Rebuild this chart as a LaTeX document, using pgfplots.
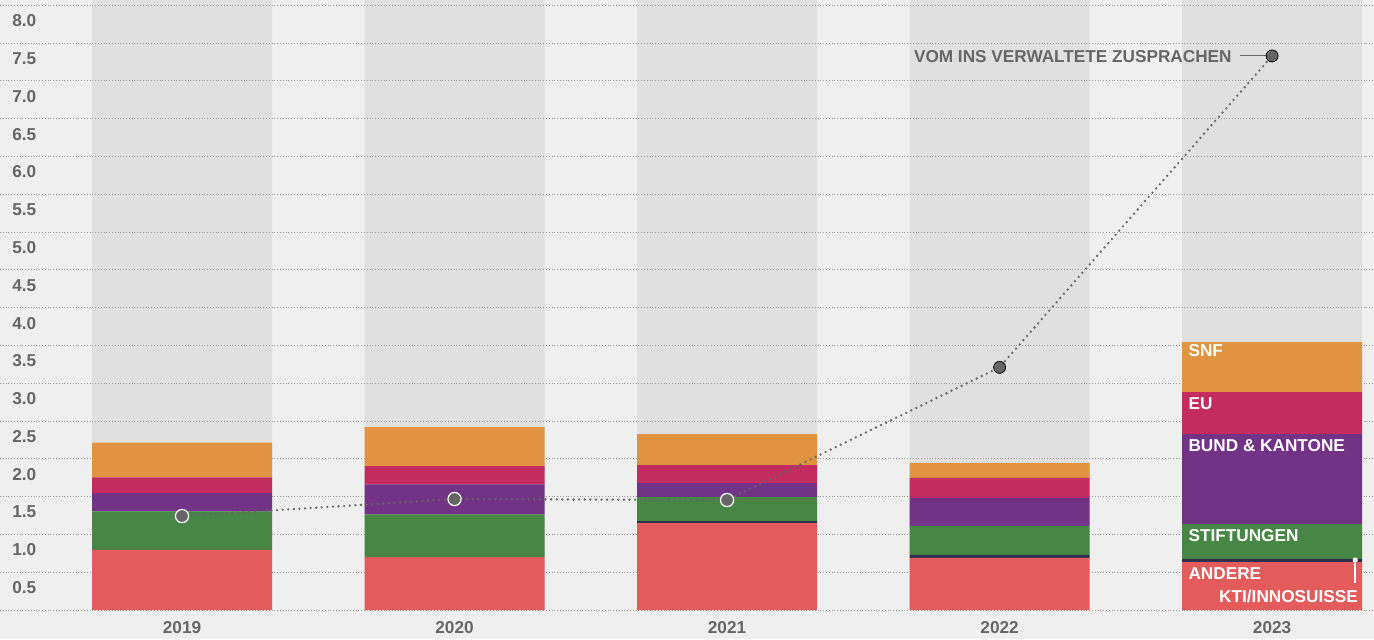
\documentclass[border=0pt]{standalone}
\usepackage{pgfplots}
\pgfplotsset{compat=1.18}
\usepackage{fontspec}
\setmainfont{Liberation Sans}

\definecolor{pagebg}{HTML}{EFEFEF}
\definecolor{colbg}{HTML}{E0E0E0}
\definecolor{gridc}{HTML}{9A9A9A}
\definecolor{txt}{HTML}{666666}
\definecolor{andere}{HTML}{E45B5B}
\definecolor{kti}{HTML}{2F2F50}
\definecolor{stift}{HTML}{478645}
\definecolor{bund}{HTML}{723387}
\definecolor{eu}{HTML}{C42B5E}
\definecolor{snf}{HTML}{E09441}

\pgfplotsset{
  base/.style={
    at={(0,0)}, anchor=south west, scale only axis,
    width=687pt, height=305pt,
    xmin=-0.668, xmax=4.374, ymin=0, ymax=8.07,
  },
}
\tikzset{lbl/.style={font=\fontsize{8.6}{10}\selectfont\bfseries, text=white, inner sep=0pt}}

\begin{document}
\begin{tikzpicture}
\useasboundingbox (0,-14.5pt) rectangle (687pt,305pt);
\fill[pagebg] (0,-14.5pt) rectangle (687pt,305pt);

% grey columns behind the bars
\begin{axis}[base, hide axis]
\addplot[ybar, bar width=90pt, fill=colbg, draw=none]
  coordinates {(0,8.07) (1,8.07) (2,8.07) (3,8.07) (4,8.07)};
\end{axis}

% stacked bars
\begin{axis}[base,
  ybar stacked, bar width=90pt,
  axis line style={draw=none}, tick style={draw=none},
  ymajorgrids, grid style={densely dotted, line width=0.5pt, color=gridc},
  ytick={0,0.5,1,1.5,2,2.5,3,3.5,4,4.5,5,5.5,6,6.5,7,7.5,8},
  yticklabels={,0.5,1.0,1.5,2.0,2.5,3.0,3.5,4.0,4.5,5.0,5.5,6.0,6.5,7.0,7.5,8.0},
  yticklabel style={anchor=north west, inner sep=0pt, xshift=6pt, yshift=-4.5pt},
  xtick={0,1,2,3,4},
  xticklabels={2019,2020,2021,2022,2023},
  xticklabel style={anchor=north, inner sep=0pt, yshift=-5.5pt},
  ticklabel style={font=\fontsize{8.6}{10}\selectfont\bfseries, text=txt},
  /pgf/number format/assume math mode=true,
]
\addplot[fill=andere, draw=none] coordinates {(0,0.795) (1,0.70) (2,1.15) (3,0.69) (4,0.635)};
\addplot[fill=kti, draw=none] coordinates {(0,0) (1,0) (2,0.027) (3,0.04) (4,0.04)};
\addplot[fill=stift, draw=none] coordinates {(0,0.51) (1,0.566) (2,0.318) (3,0.383) (4,0.463)};
\addplot[fill=bund, draw=none] coordinates {(0,0.24) (1,0.397) (2,0.185) (3,0.37) (4,1.19)};
\addplot[fill=eu, draw=none] coordinates {(0,0.21) (1,0.242) (2,0.238) (3,0.265) (4,0.556)};
\addplot[fill=snf, draw=none] coordinates {(0,0.46) (1,0.515) (2,0.41) (3,0.198) (4,0.661)};
\end{axis}

% line of the amounts taken into management
\begin{axis}[base, hide axis, clip=false]
\addplot[color=txt, line width=1.3pt, line cap=round,
  dash pattern=on 0pt off 2.8pt]
  coordinates {(0,1.243) (1,1.468) (2,1.455) (3,3.21) (4,7.33)};
\addplot[only marks, mark=*, mark size=3.3pt,
  mark options={fill=txt, draw=white, line width=0.6pt}]
  coordinates {(0,1.243) (1,1.468) (2,1.455)};
\addplot[only marks, mark=*, mark size=3pt, mark options={fill=txt, draw=none}]
  coordinates {(3,3.21) (4,7.33)};

\draw[txt, line width=0.5pt] (axis cs:3.882,7.33) -- (axis cs:3.99,7.33);
\node[lbl, text=txt, anchor=base east] at (axis cs:3.853,7.249) {VOM INS VERWALTETE ZUSPRACHEN};

\node[lbl, anchor=base west] at (axis cs:3.692,3.36) {SNF};
\node[lbl, anchor=base west] at (axis cs:3.692,2.646) {EU};
\node[lbl, anchor=base west] at (axis cs:3.692,2.103) {BUND \& KANTONE};
\node[lbl, anchor=base west] at (axis cs:3.692,0.903) {STIFTUNGEN};
\node[lbl, anchor=base west] at (axis cs:3.692,0.41) {ANDERE};
\node[lbl, anchor=base east] at (axis cs:4.316,0.097) {KTI/INNOSUISSE};
\draw[white, line width=1pt] (axis cs:4.305,0.661) -- (axis cs:4.305,0.357);
\fill[white] (axis cs:4.305,0.661) circle[radius=1.3pt];
\end{axis}
\end{tikzpicture}
\end{document}
